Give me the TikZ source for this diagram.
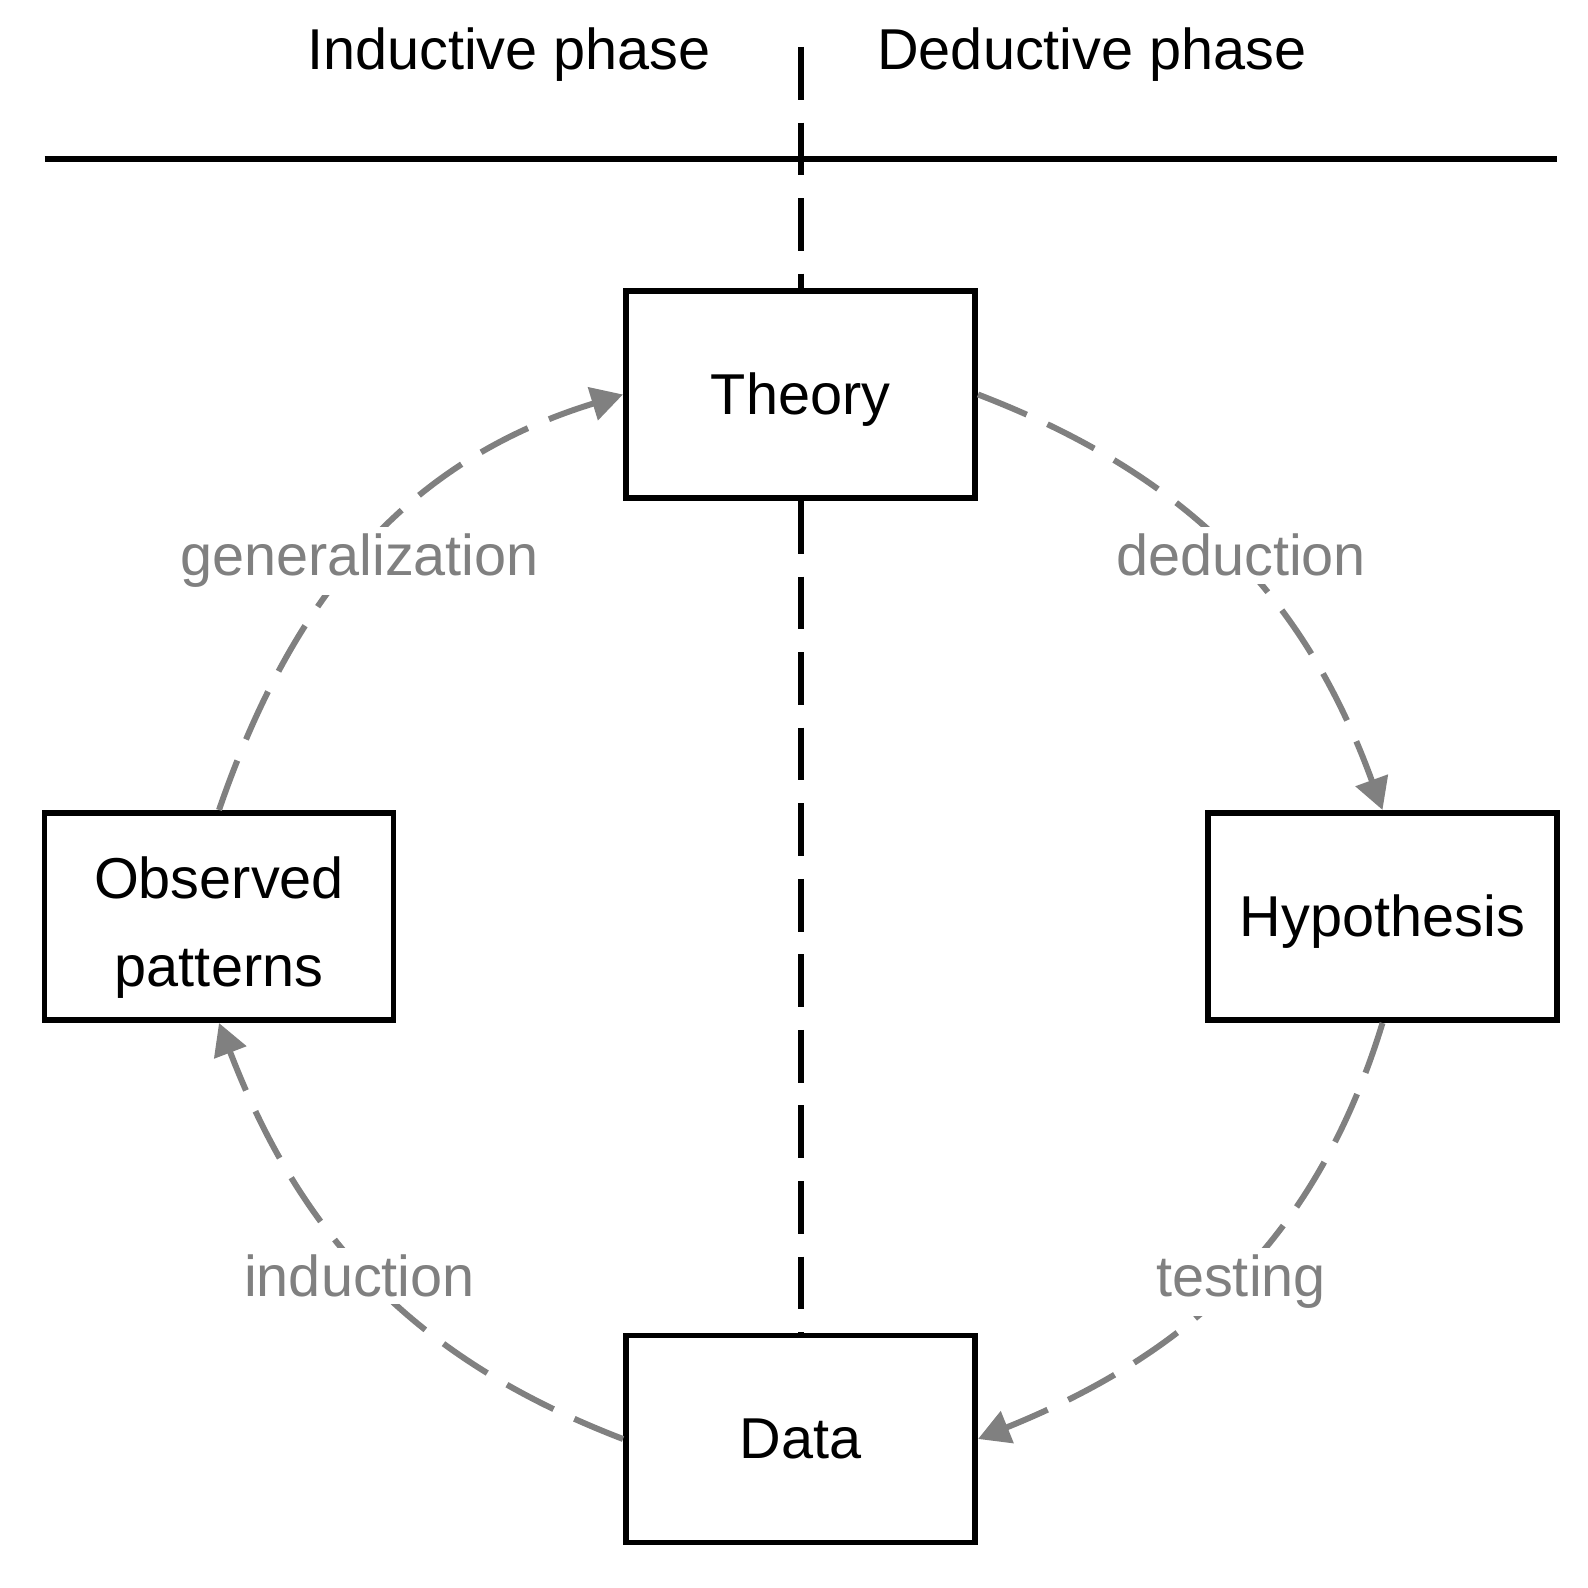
\documentclass[tikz,border=0pt]{standalone}
\usepackage{fontspec}
\setmainfont{Liberation Sans}
\usetikzlibrary{arrows.meta}
\definecolor{arc-gray}{HTML}{808080}

\begin{document}
\begin{tikzpicture}[
      every node/.style={font=\fontsize{16.4}{25.2}\selectfont},
      box/.style={draw, line width=1.7pt, fill=white, minimum width=3.49cm,
          minimum height=2.07cm, align=center, inner sep=0pt,
          text height=11.2pt, text depth=0pt},
      lbl/.style={text=arc-gray, fill=white, inner sep=2pt, anchor=base},
      phase/.style={inner sep=0pt, anchor=base},
      divider/.style={line width=1.7pt, dash pattern=on 15pt off 6.5pt},
      flow/.style={-{Triangle[length=9pt, width=9.5pt]}, arc-gray,
          line width=1.7pt, dash pattern=on 15pt off 6.5pt}]
    \useasboundingbox (0,0) rectangle (15.88,15.88);
    % header
    \node[phase] (IND) at (5.09,15.18) {Inductive phase};
    \node[phase] (DED) at (10.92,15.18) {Deductive phase};
    \coordinate (HL) at (0.446,14.29);
    \coordinate (HR) at (15.57,14.29);
    \coordinate (TOP) at (8.005,15.41);
    \draw[line width=1.7pt] (HL) -- (HR);
    % boxes
    \node[box] (THEORY) at (8.005,11.935) {Theory};
    \node[box, text height=40pt] (OBS) at (2.19,6.715) {Observed\\patterns};
    \node[box] (HYP) at (13.825,6.715) {Hypothesis};
    \node[box] (DATA) at (8.005,1.49) {Data};
    \draw[divider] (TOP) -- (THEORY.north);
    \draw[divider] (THEORY.south) -- (DATA.north);
    % cycle
    \draw[flow] (OBS.north) to[out=71, in=197] (THEORY.west);
    \draw[flow] (THEORY.east) to[out=-21, in=110] (HYP.north);
    \draw[flow] (HYP.south) to[out=-107, in=22] (DATA.east);
    \draw[flow] (DATA.west) to[out=159, in=-69] (OBS.south);
    \node[lbl] (GEN) at (3.595,10.12) {generalization};
    \node[lbl] (DEDN) at (12.41,10.12) {deduction};
    \node[lbl] (INDN) at (3.595,2.913) {induction};
    \node[lbl] (TEST) at (12.41,2.913) {testing};
  \end{tikzpicture}
\end{document}
